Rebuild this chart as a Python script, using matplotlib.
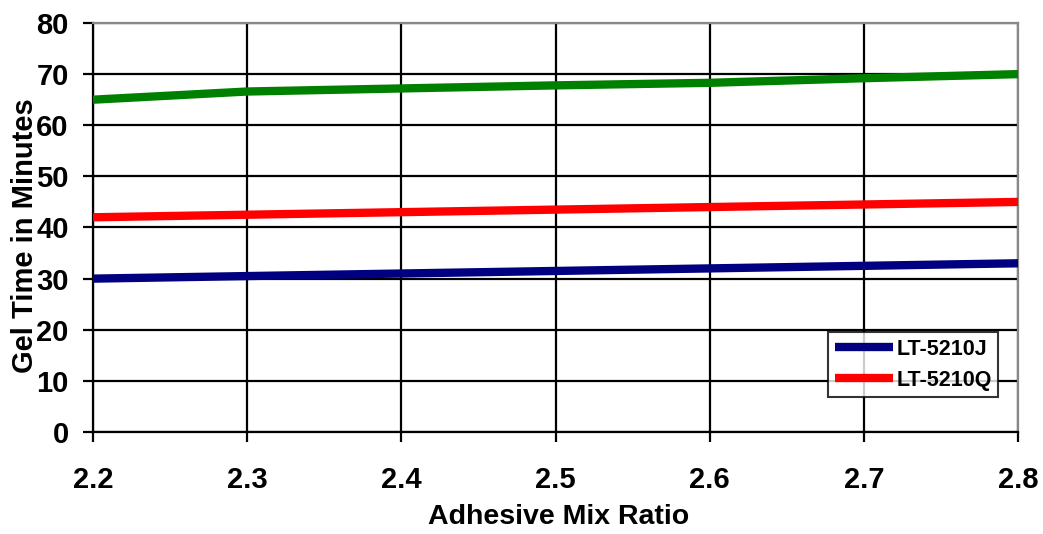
import matplotlib
matplotlib.use("Agg")
import matplotlib.pyplot as plt

ratio = [2.2, 2.3, 2.4, 2.5, 2.6, 2.7, 2.8]
green_vals = [65.0, 66.6, 67.2, 67.8, 68.3, 69.2, 70.0]
lt5210q = [42.0, 42.5, 43.0, 43.5, 44.0, 44.5, 45.0]
lt5210j = [30.0, 30.5, 31.0, 31.5, 32.0, 32.5, 33.0]
yticks = [0, 10, 20, 30, 40, 50, 60, 70, 80]
xticks = [2.2, 2.3, 2.4, 2.5, 2.6, 2.7, 2.8]

plt.rcParams['font.family'] = ['Liberation Sans', 'DejaVu Sans']
plt.rcParams['font.weight'] = 'bold'

fig = plt.figure(figsize=(10.43, 5.34), dpi=100)
ax = fig.add_axes([93/1043, 1-432/534, (1018-93)/1043, (432-23)/534])

ax.plot(ratio, green_vals, color='#008000', lw=6, solid_capstyle='butt', zorder=3)
lq, = ax.plot(ratio, lt5210q, color='#ff0000', lw=6, solid_capstyle='butt', zorder=3, label='LT-5210Q')
lj, = ax.plot(ratio, lt5210j, color='#000080', lw=6, solid_capstyle='butt', zorder=3, label='LT-5210J')

ax.set_xlim(2.2, 2.8)
ax.set_ylim(0, 80)
ax.set_xticks(xticks)
ax.set_xticklabels([f"{t:.1f}" for t in xticks])
ax.set_yticks(yticks)
ax.grid(True, color='black', lw=1.6, zorder=1)
for s in ['left', 'bottom']:
    ax.spines[s].set_color('black')
    ax.spines[s].set_linewidth(1.6)
for s in ['top', 'right']:
    ax.spines[s].set_color('#888888')
    ax.spines[s].set_linewidth(1.6)
ax.tick_params(axis='both', direction='out', length=7.5, width=1.6, labelsize=21)
ax.tick_params(axis='x', pad=17)
ax.tick_params(axis='y', pad=10)
for lab in ax.get_xticklabels() + ax.get_yticklabels():
    lab.set_fontweight('bold')

ax.set_xlabel('Adhesive Mix Ratio', fontsize=20.5, fontweight='bold')
ax.xaxis.set_label_coords((559-93)/925, -(517-432)/409)
ax.xaxis.label.set_va('center')
fig.text(25/1043, 1-236/534, 'Gel Time in Minutes', rotation=90, fontsize=21,
         fontweight='bold', ha='center', va='center')

leg = ax.legend(handles=[lj, lq], loc='lower right',
                bbox_to_anchor=((998-93)/925, (432-397)/409),
                frameon=True, fancybox=False, edgecolor='black',
                handlelength=2.7, handletextpad=0.15, borderpad=0.3, labelspacing=0.45,
                borderaxespad=0, prop={'weight': 'bold', 'size': 15.5})
leg.get_frame().set_linewidth(1.5)
leg.set_zorder(5)

fig.savefig('out.png', dpi=100, facecolor='white')
